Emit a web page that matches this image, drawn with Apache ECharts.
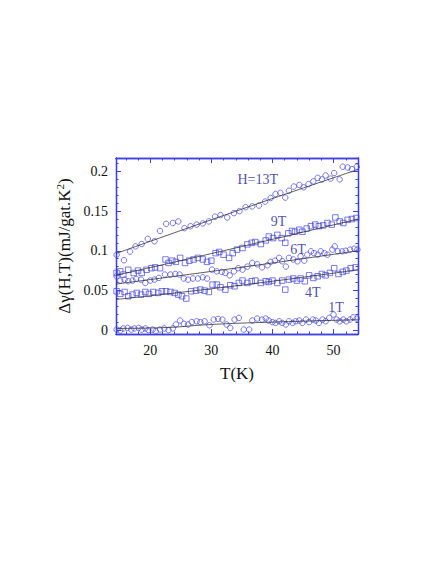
<!DOCTYPE html>
<html><head><meta charset="utf-8">
<script src="https://cdn.jsdelivr.net/npm/echarts@6/dist/echarts.min.js"></script>
<style>html,body{margin:0;padding:0;background:#fff}#c{width:436px;height:564px}</style>
</head><body><div id="c"></div>
<script>
// ---- axis ticks ----
const xMajor = [20, 30, 40, 50];
const xMinor = [16, 18, 22, 24, 26, 28, 32, 34, 36, 38, 42, 44, 46, 48, 52];
const yMajor = [0, 0.05, 0.1, 0.15, 0.2];
const yMinor = [0.01, 0.02, 0.03, 0.04, 0.06, 0.07, 0.08, 0.09, 0.11, 0.12, 0.13, 0.14, 0.16, 0.17, 0.18, 0.19, 0.21];
const X_MIN = 14.4, X_MAX = 54, Y_MIN = -0.005, Y_MAX = 0.217;

// ---- data: H = 13 T (circles) ----
const t13 = [14.5,15.7,16.7,17.6,18.6,19.6,20.7,21.6,22.6,23.7,24.6,25.6,26.6,27.6,28.6,29.6,30.6,31.5,32.6,33.7,34.6,
  35.6,36.7,37.8,38.8,39.7,40.5,41.3,42.1,42.7,43.5,44.4,45.1,45.9,46.7,47.4,48.1,48.7,49.5,50.1,51.0,51.5,52.3,53.0,53.8];
const v13 = [0.095,0.088,0.099,0.1055,0.1085,0.115,0.112,0.125,0.134,0.135,0.137,0.1285,0.131,0.133,0.1345,0.137,0.143,0.145,0.142,0.1475,0.150,
  0.155,0.156,0.157,0.162,0.1665,0.1715,0.173,0.167,0.1757,0.181,0.183,0.180,0.184,0.1875,0.192,0.190,0.195,0.191,0.198,0.190,0.206,0.205,0.203,0.206];
// ---- H = 9 T (squares) ----
const t9 = [14.5,15.1,15.6,16.4,17.3,18.0,18.6,19.4,20.2,20.8,21.6,22.5,23.0,23.6,24.2,24.9,25.7,26.4,27.1,27.8,28.6,29.3,30.0,30.7,31.3,32.0,32.9,33.5,34.2,
  35.1,35.9,36.6,37.2,38.1,38.9,39.4,40.1,40.8,41.5,42.1,42.6,43.2,43.7,44.4,44.9,45.6,46.3,47.0,47.6,48.3,49.0,49.7,50.3,51.0,51.6,52.3,53.0,53.7];
const v9 = [0.072,0.074,0.070,0.076,0.072,0.075,0.072,0.076,0.078,0.079,0.078,0.089,0.0846,0.0875,0.086,0.091,0.0846,0.0875,0.089,0.091,0.089,0.086,0.0875,0.097,0.0985,0.095,0.091,0.097,0.1014,
  0.1035,0.108,0.110,0.111,0.1085,0.113,0.118,0.116,0.120,0.116,0.110,0.122,0.125,0.124,0.1265,0.124,0.128,0.131,0.133,0.131,0.132,0.135,0.133,0.142,0.137,0.135,0.139,0.140,0.1413];
// ---- H = 6 T (circles) ----
const t6 = [14.5,15.1,15.8,16.4,17.1,17.7,18.5,19.2,20.0,20.7,21.4,22.4,23.3,24.1,24.8,25.5,26.2,27.0,27.8,28.6,29.3,30.1,30.9,31.7,32.3,33.0,33.7,34.4,
  35.1,35.9,36.7,37.5,38.3,39.2,39.7,40.4,41.1,41.6,42.2,42.7,43.4,44.1,44.6,45.2,45.7,46.3,46.8,47.4,47.9,48.5,49.0,49.8,50.2,50.7,51.4,52.0,52.7,53.4,53.9];
const v6 = [0.0678,0.0624,0.0636,0.0615,0.0624,0.0645,0.0636,0.0594,0.0624,0.0636,0.0657,0.070,0.070,0.0707,0.070,0.065,0.0636,0.065,0.065,0.0665,0.065,0.0762,0.074,0.0733,0.072,0.069,0.074,0.078,
  0.0762,0.080,0.0846,0.083,0.079,0.0817,0.086,0.0875,0.091,0.0867,0.080,0.091,0.089,0.0867,0.093,0.0875,0.095,0.0993,0.097,0.095,0.0993,0.097,0.095,0.1014,0.1056,0.0993,0.0993,0.100,0.1014,0.1026,0.1014];
// ---- H = 4 T (squares) ----
const t4 = [14.5,15.1,15.8,16.4,17.1,17.8,18.5,19.2,19.8,20.5,21.3,21.9,22.6,23.3,24.0,24.6,25.2,25.9,26.7,27.5,28.2,28.9,29.6,30.2,30.9,31.5,32.3,33.1,33.8,34.5,
  35.1,35.9,36.6,37.2,38.1,38.9,39.4,40.0,40.8,41.6,42.1,42.7,43.4,44.0,44.6,45.3,46.0,46.7,47.4,48.1,48.7,49.4,50.1,50.8,51.5,52.1,52.8,53.6];
const v4 = [0.0489,0.0456,0.048,0.0426,0.0447,0.0468,0.0447,0.048,0.0456,0.048,0.0468,0.0489,0.0489,0.048,0.0468,0.0447,0.0426,0.0397,0.0489,0.0497,0.051,0.0497,0.048,0.0573,0.0573,0.054,0.051,0.0565,0.0552,0.0594,
  0.0624,0.0594,0.0615,0.0624,0.0594,0.0615,0.0607,0.0624,0.0594,0.0624,0.051,0.0636,0.065,0.0624,0.065,0.0615,0.069,0.0657,0.0678,0.0707,0.069,0.072,0.078,0.0707,0.0733,0.075,0.078,0.079];
// ---- H = 1 T (circles) ----
const t1 = [14.5,15.1,15.6,16.3,16.9,17.4,18.1,18.6,19.2,19.7,20.4,20.9,21.6,22.3,23.0,23.7,24.2,24.9,25.5,26.2,26.8,27.6,28.2,28.9,29.7,30.4,31.1,31.8,32.5,33.1,33.8,34.5,
  35.3,36.2,36.7,37.5,38.3,38.9,39.4,40.0,40.5,41.1,41.6,42.2,42.7,43.3,43.8,44.4,44.9,45.5,46.0,46.6,47.1,47.6,48.2,48.7,49.3,50.0,50.5,51.0,51.6,52.1,52.7,53.2,53.8];
const v1 = [0.0006,-0.0006,0.002,0.0027,0.0006,0.002,0.0027,0.0006,0.002,0,0.0006,-0.0015,0.0006,0.002,0,0.002,0.007,0.012,0.0078,0.007,0.010,0.011,0.010,0.011,0.006,0.0132,0.014,0.0132,0.007,0.0027,0.0132,0.0153,
  0.0006,0.0006,0.012,0.0145,0.0132,0.0145,0.012,0.010,0.009,0.011,0.009,0.007,0.011,0.009,0.011,0.012,0.009,0.0132,0.010,0.0132,0.012,0.009,0.0132,0.011,0.0153,0.0195,0.0132,0.011,0.0132,0.011,0.0132,0.016,0.0145];

// ---- fitted curves ----
const fitT = [14.4, 34.8, 54];
const fit13 = [0.0965, 0.152, 0.2025];
const fit9 = [0.069, 0.105, 0.140];
const fit6 = [0.058, 0.079, 0.100];
const fit4 = [0.0385, 0.0565, 0.076];
const fitT1 = [14.4, 22, 30, 40, 54];
const fit1 = [0.002, 0.003, 0.007, 0.010, 0.013];

// ---- field labels ----
const labText = ['H=13T', '9T', '6T', '4T', '1T'];
const labT = [37.6, 41.0, 44.2, 46.6, 50.4];
const labV = [0.1895, 0.1366, 0.101, 0.0472, 0.0283];

const AX = '#4040e0';
const MK = '#4545e6';
const SERIF = '"Liberation Serif","Times New Roman",Times,serif';
const zip = (a, b) => a.map((x, i) => [x, b[i]]);

function xAx(pos, vals, len, withLabel) {
  return {
    type: 'value', min: X_MIN, max: X_MAX, position: pos,
    axisLine: { show: true, onZero: false, lineStyle: { color: AX, width: 1.3 } },
    axisTick: { show: true, inside: true, length: len, customValues: vals, lineStyle: { color: AX, width: 1 } },
    axisLabel: { show: withLabel, customValues: vals, color: '#111', fontFamily: SERIF, fontSize: 14, margin: 9 },
    splitLine: { show: false },
    name: withLabel ? 'T(K)' : '', nameLocation: 'middle', nameGap: 31,
    nameTextStyle: { fontFamily: SERIF, fontSize: 17, color: '#111' }
  };
}
function yAx(pos, vals, len, withLabel) {
  return {
    type: 'value', min: Y_MIN, max: Y_MAX, position: pos,
    axisLine: { show: true, onZero: false, lineStyle: { color: AX, width: 1.3 } },
    axisTick: { show: true, inside: true, length: len, customValues: vals, lineStyle: { color: AX, width: 1 } },
    axisLabel: { show: withLabel, customValues: vals, color: '#111', fontFamily: SERIF, fontSize: 14, margin: 8 },
    splitLine: { show: false },
    name: withLabel ? '{a|Δγ(H,T)(mJ/gat.K}{s|2}{a|)}' : '', nameLocation: 'middle', nameGap: 42,
    nameTextStyle: { fontFamily: SERIF, fontSize: 17, color: '#111',
      rich: { a: { fontFamily: SERIF, fontSize: 17, color: '#111' },
              s: { fontFamily: SERIF, fontSize: 11, color: '#111', verticalAlign: 'top', padding: [0, 0, 8, 0] } } }
  };
}

function pts(name, t, v, sym) {
  return { name, type: 'scatter', xAxisIndex: 0, yAxisIndex: 0, data: zip(t, v),
    symbol: sym, symbolSize: 5.5, silent: true,
    itemStyle: { color: 'rgba(0,0,0,0)', borderColor: MK, borderWidth: 0.9 } };
}
function fit(name, t, v) {
  return { name, type: 'line', xAxisIndex: 0, yAxisIndex: 0, data: zip(t, v), showSymbol: false, smooth: true,
    lineStyle: { color: '#333', width: 0.8 }, silent: true, z: 3 };
}

const chart = echarts.init(document.getElementById('c'), null, { renderer: 'svg' });
chart.setOption({
  backgroundColor: '#fff',
  animation: false,
  grid: { left: 116, right: 78, top: 158, bottom: 230, containLabel: false, outerBoundsMode: 'none' },
  xAxis: [
    xAx('bottom', xMajor, 5, true), xAx('bottom', xMinor, 2.5, false),
    xAx('top', xMajor, 5, false), xAx('top', xMinor, 2.5, false)
  ],
  yAxis: [
    yAx('left', yMajor, 5, true), yAx('left', yMinor, 2.5, false),
    yAx('right', yMajor, 5, false), yAx('right', yMinor, 2.5, false)
  ],
  series: [
    fit('fit13', fitT, fit13), fit('fit9', fitT, fit9), fit('fit6', fitT, fit6), fit('fit4', fitT, fit4), fit('fit1', fitT1, fit1),
    pts('13T', t13, v13, 'circle'), pts('9T', t9, v9, 'rect'), pts('6T', t6, v6, 'circle'),
    pts('4T', t4, v4, 'rect'), pts('1T', t1, v1, 'circle'),
    { name: 'labels', type: 'scatter', xAxisIndex: 0, yAxisIndex: 0, symbolSize: 0, silent: true,
      data: labText.map((s, i) => ({ name: s, value: [labT[i], labV[i]] })),
      label: { show: true, position: 'inside', formatter: p => p.name, color: '#22229c', fontFamily: SERIF, fontSize: 14 } }
  ]
});
</script></body></html>
